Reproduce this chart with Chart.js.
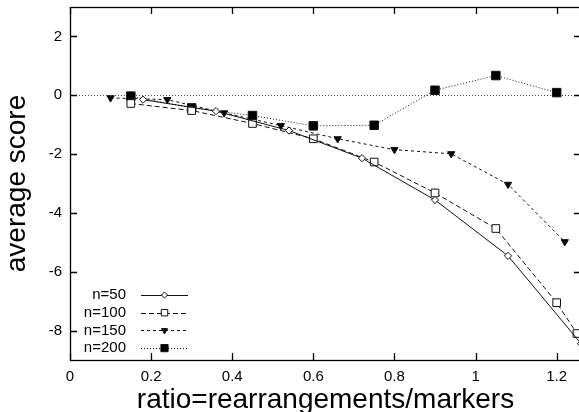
<!DOCTYPE html>
<html>
<head>
<meta charset="utf-8">
<script src="https://cdn.jsdelivr.net/npm/chart.js"></script>
<style>
  html, body { margin: 0; padding: 0; background: #fff; overflow: hidden; }
  canvas { display: block; }
</style>
</head>
<body>
<canvas id="chart" width="581" height="412" style="width:581px;height:412px"></canvas>
<script>
// values
const n50x = [0.18, 0.36, 0.54, 0.72, 0.90, 1.08, 1.26];
const n50y = [-0.15, -0.54, -1.2, -2.14, -3.56, -5.46, -8.44];
const n100x = [0.15, 0.30, 0.45, 0.60, 0.75, 0.90, 1.05, 1.20, 1.25];
const n100y = [-0.28, -0.52, -0.96, -1.48, -2.27, -3.32, -4.53, -7.05, -8.1];
const n150x = [0.10, 0.24, 0.38, 0.52, 0.66, 0.80, 0.94, 1.08, 1.22];
const n150y = [-0.09, -0.15, -0.6, -1.03, -1.48, -1.85, -1.99, -3.03, -4.98];
const n200x = [0.15, 0.30, 0.45, 0.60, 0.75, 0.90, 1.05, 1.20];
const n200y = [-0.03, -0.43, -0.69, -1.04, -1.02, 0.17, 0.67, 0.09];

const seriesNames = ["n=50", "n=100", "n=150", "n=200"];
const xTicks = [0, 0.2, 0.4, 0.6, 0.8, 1.0, 1.2];
const xTickLabels = ["0", "0.2", "0.4", "0.6", "0.8", "1", "1.2"];
const yTicks = [-8, -6, -4, -2, 0, 2];
const yTickLabels = ["-8", "-6", "-4", "-2", "0", "2"];
const xTitle = "ratio=rearrangements/markers";
const yTitle = "average score";

const FONT = "'Liberation Sans', Arial, Helvetica, sans-serif";

function pts(xs, ys) {
  return xs.map((x, i) => ({ x: x, y: ys[i] }));
}

const datasets = [
  { label: seriesNames[0], data: pts(n50x, n50y), borderDash: [],
    pointStyle: "rectRot", pointRadius: 3.6, pointBackgroundColor: "#fff" },
  { label: seriesNames[1], data: pts(n100x, n100y), borderDash: [5, 3],
    pointStyle: "rect", pointRadius: 5.4, pointBackgroundColor: "#fff" },
  { label: seriesNames[2], data: pts(n150x, n150y), borderDash: [3, 3],
    pointStyle: "triangle", pointRotation: 180, pointRadius: 4.2, pointBackgroundColor: "#000" },
  { label: seriesNames[3], data: pts(n200x, n200y), borderDash: [1, 2],
    pointStyle: "rect", pointRadius: 6, pointBackgroundColor: "#000" },
].map((d) => Object.assign({
  borderColor: "#111",
  borderWidth: 1,
  pointBorderColor: "#111",
  pointBorderWidth: 1,
  showLine: true,
  tension: 0,
}, d));

// frame, inward ticks, zero line and the gnuplot style legend
const framePlugin = {
  id: "frame",
  beforeDatasetsDraw(chart) {
    const { ctx, chartArea: a, scales: { x, y } } = chart;
    ctx.save();
    // dotted zero axis
    const y0 = Math.round(y.getPixelForValue(0)) + 0.5;
    ctx.strokeStyle = "#444";
    ctx.lineWidth = 1;
    ctx.setLineDash([1, 2]);
    ctx.beginPath();
    ctx.moveTo(a.left, y0);
    ctx.lineTo(a.right, y0);
    ctx.stroke();
    ctx.setLineDash([]);
    // border
    ctx.strokeStyle = "#000";
    ctx.lineWidth = 1.3;
    ctx.strokeRect(a.left + 0.5, a.top + 0.5, a.right - a.left, a.bottom - a.top);
    // ticks pointing in
    const len = 7;
    ctx.beginPath();
    xTicks.forEach((v) => {
      const px = Math.round(x.getPixelForValue(v)) + 0.5;
      ctx.moveTo(px, a.bottom); ctx.lineTo(px, a.bottom - len);
      ctx.moveTo(px, a.top); ctx.lineTo(px, a.top + len);
    });
    yTicks.forEach((v) => {
      const py = Math.round(y.getPixelForValue(v)) + 0.5;
      ctx.moveTo(a.left, py); ctx.lineTo(a.left + len, py);
      ctx.moveTo(a.right, py); ctx.lineTo(a.right - len, py);
    });
    ctx.stroke();
    ctx.restore();
  },
  afterDraw(chart) {
    const { ctx } = chart;
    ctx.save();
    chart.data.datasets.forEach((ds, i) => {
      const rowY = 295 + i * 17.7;
      ctx.fillStyle = "#000";
      ctx.font = "15px " + FONT;
      ctx.textAlign = "right";
      ctx.textBaseline = "middle";
      ctx.fillText(ds.label, 126, rowY);
      ctx.strokeStyle = ds.borderColor;
      ctx.lineWidth = 1;
      ctx.setLineDash(ds.borderDash);
      ctx.beginPath();
      ctx.moveTo(141, Math.round(rowY) + 0.5);
      ctx.lineTo(188, Math.round(rowY) + 0.5);
      ctx.stroke();
      ctx.setLineDash([]);
      ctx.fillStyle = ds.pointBackgroundColor;
      ctx.strokeStyle = ds.pointBorderColor;
      Chart.helpers.drawPoint(ctx, {
        pointStyle: ds.pointStyle,
        rotation: ds.pointRotation || 0,
        radius: ds.pointRadius * 0.85,
        borderWidth: 1,
      }, 164.5, rowY);
    });
    ctx.restore();
  },
};

new Chart(document.getElementById("chart"), {
  type: "scatter",
  data: { datasets: datasets },
  plugins: [framePlugin],
  options: {
    responsive: false,
    animation: false,
    layout: { autoPadding: false, padding: { top: 7, right: 0, bottom: 0, left: 0 } },
    plugins: { legend: { display: false }, tooltip: { enabled: false } },
    scales: {
      x: {
        type: "linear",
        min: 0,
        max: 1.26,
        grid: { display: false, drawTicks: false },
        border: { display: false },
        afterBuildTicks: (s) => { s.ticks = xTicks.map((v) => ({ value: v })); },
        afterFit: (s) => {
          s.height = 52;
          s.paddingLeft = 0;
          s.paddingRight = 0;
        },
        ticks: {
          autoSkip: false,
          maxRotation: 0,
          padding: 8,
          color: "#000",
          font: { family: FONT, size: 15 },
          callback: (v, i) => xTickLabels[i],
        },
        title: {
          display: true,
          text: xTitle,
          color: "#000",
          padding: { top: 0, bottom: 0 },
          font: { family: FONT, size: 28, lineHeight: 0.86 },
        },
      },
      y: {
        type: "linear",
        min: -9,
        max: 3,
        grid: { display: false, drawTicks: false },
        border: { display: false },
        afterBuildTicks: (s) => { s.ticks = yTicks.map((v) => ({ value: v })); },
        afterFit: (s) => {
          s.width = 70;
          s.paddingTop = 0;
          s.paddingBottom = 0;
        },
        ticks: {
          autoSkip: false,
          padding: 8,
          color: "#000",
          font: { family: FONT, size: 15 },
          callback: (v, i) => yTickLabels[i],
        },
        title: {
          display: true,
          text: yTitle,
          color: "#000",
          padding: { top: 5, bottom: 0 },
          font: { family: FONT, size: 28, lineHeight: 0.86 },
        },
      },
    },
  },
});
</script>
</body>
</html>
